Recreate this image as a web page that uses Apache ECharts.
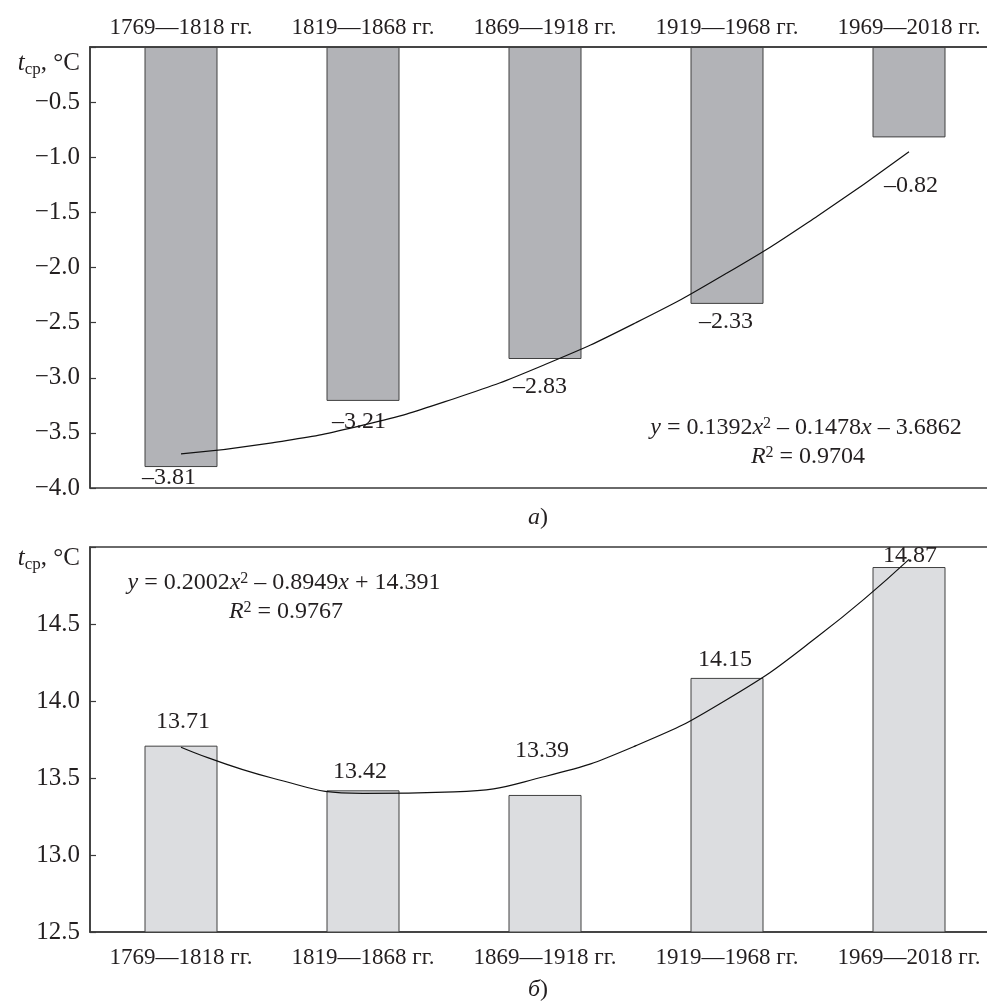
<!DOCTYPE html>
<html>
<head>
<meta charset="utf-8">
<script src="https://cdn.jsdelivr.net/npm/echarts@6/dist/echarts.min.js"></script>
<style>
  html, body { margin: 0; padding: 0; background: #fff; }
  #chart { width: 987px; height: 1005px; }
</style>
</head>
<body>
<div id="chart"></div>
<script>
// Periods (50-year intervals)
const periods = ['1769—1818 гг.', '1819—1868 гг.', '1869—1918 гг.', '1919—1968 гг.', '1969—2018 гг.'];

// Panel а): mean winter temperature, °C
const winterMean = [-3.81, -3.21, -2.83, -2.33, -0.82];
const winterTickLabels = ['−4.0', '−3.5', '−3.0', '−2.5', '−2.0', '−1.5', '−1.0', '−0.5', ''];

// Panel б): mean summer temperature, °C
const summerMean = [13.71, 13.42, 13.39, 14.15, 14.87];
const summerTickLabels = ['12.5', '13.0', '13.5', '14.0', '14.5', ''];

// Polynomial trend curves, read at every half period (1 = first period)
const trendX = [1, 1.5, 2, 2.5, 3, 3.5, 4, 4.5, 5];
const winterTrend = [-3.69, -3.59, -3.43, -3.19, -2.88, -2.50, -2.05, -1.53, -0.95];
const summerTrend = [13.70, 13.50, 13.40, 13.41, 13.51, 13.71, 14.01, 14.42, 14.92];

// Label nudges (px) for each bar value label
const winterLabelShift = [[-12, -1], [-4, 9], [-5, 16], [-1, 6], [2, 36]];
const summerLabelShift = [[2, -12], [-3, -7], [-3, -32], [-2, -6], [1, 1]];

const FONT = "'Liberation Serif', 'Times New Roman', serif";
const INK = '#231f20';
const AXIS = '#3a3a3a';

function dash(v) {
  return v.toFixed(2).replace('-', '–');
}

function tickFormatter(labels, min) {
  return function (v) {
    const i = Math.round((v - min) / 0.5);
    return labels[i] !== undefined ? labels[i] : '';
  };
}

function barData(values, shifts) {
  return values.map((v, i) => ({ value: v, label: { offset: shifts[i] } }));
}

function pairs(xs, ys) {
  return xs.map((x, i) => [x, ys[i]]);
}

const chart = echarts.init(document.getElementById('chart'), null, { renderer: 'canvas' });

const richEq = {
  i: { fontFamily: FONT, fontStyle: 'italic', fontSize: 24, fill: INK },
  n: { fontFamily: FONT, fontSize: 24, fill: INK },
  sup: { fontFamily: FONT, fontSize: 16, fill: INK, verticalAlign: 'top', lineHeight: 22 }
};
const richUnit = {
  i: { fontFamily: FONT, fontStyle: 'italic', fontSize: 25, fill: INK },
  sub: { fontFamily: FONT, fontSize: 17, fill: INK, verticalAlign: 'bottom', lineHeight: 30 },
  n: { fontFamily: FONT, fontSize: 25, fill: INK }
};

const gridBase = {
  left: 90, width: 910, show: true, borderColor: AXIS, borderWidth: 1.5,
  backgroundColor: 'transparent', containLabel: false, outerBoundsMode: 'none'
};

const catAxis = (gridIndex, position, margin) => ({
  type: 'category', gridIndex, position, data: periods,
  axisLine: { show: true, lineStyle: { color: AXIS, width: 1.5 } },
  axisTick: { show: false },
  axisLabel: { fontFamily: FONT, fontSize: 23, color: INK, margin, interval: 0, hideOverlap: false }
});

const trendAxis = (gridIndex) => ({
  type: 'value', gridIndex, min: 0.5, max: 5.5, show: false
});

const valAxis = (gridIndex, min, max, labels) => ({
  type: 'value', gridIndex, min, max, interval: 0.5,
  axisLine: { show: true, lineStyle: { color: AXIS, width: 1.5 } },
  axisTick: { show: true, inside: true, length: 6, lineStyle: { color: AXIS, width: 1.2 } },
  splitLine: { show: false },
  axisLabel: { fontFamily: FONT, fontSize: 25, color: INK, margin: 10, formatter: tickFormatter(labels, min) }
});

const option = {
  backgroundColor: '#fff',
  animation: false,
  textStyle: { fontFamily: FONT, color: INK },
  grid: [
    Object.assign({ top: 47, height: 441 }, gridBase),
    Object.assign({ top: 547, height: 385 }, gridBase)
  ],
  xAxis: [
    catAxis(0, 'top', 8),
    catAxis(1, 'bottom', 14),
    trendAxis(0),
    trendAxis(1)
  ],
  yAxis: [
    valAxis(0, -4, 0, winterTickLabels),
    valAxis(1, 12.5, 15, summerTickLabels)
  ],
  series: [
    {
      type: 'bar', xAxisIndex: 0, yAxisIndex: 0,
      data: barData(winterMean, winterLabelShift),
      barWidth: 73,
      itemStyle: { color: '#b2b3b7', borderColor: '#404040', borderWidth: 1 },
      label: {
        show: true, position: 'bottom', distance: 0,
        fontFamily: FONT, fontSize: 24, color: INK,
        formatter: p => dash(p.value)
      },
      z: 2
    },
    {
      type: 'line', xAxisIndex: 2, yAxisIndex: 0,
      data: pairs(trendX, winterTrend), smooth: true, symbol: 'none',
      lineStyle: { color: '#111', width: 1.2 },
      z: 3
    },
    {
      type: 'bar', xAxisIndex: 1, yAxisIndex: 1,
      data: barData(summerMean, summerLabelShift),
      barWidth: 73,
      itemStyle: { color: '#dcdde0', borderColor: '#404040', borderWidth: 1 },
      label: {
        show: true, position: 'top', distance: 0,
        fontFamily: FONT, fontSize: 24, color: INK,
        formatter: p => p.value.toFixed(2)
      },
      z: 2
    },
    {
      type: 'line', xAxisIndex: 3, yAxisIndex: 1,
      data: pairs(trendX, summerTrend), smooth: true, symbol: 'none',
      lineStyle: { color: '#111', width: 1.2 },
      z: 3
    }
  ],
  graphic: [
    { type: 'text', x: 80, y: 63,
      style: { text: '{i|t}{sub|ср}{n|, °C}', align: 'right', verticalAlign: 'middle', rich: richUnit } },
    { type: 'text', x: 80, y: 558,
      style: { text: '{i|t}{sub|ср}{n|, °C}', align: 'right', verticalAlign: 'middle', rich: richUnit } },
    { type: 'text', x: 806, y: 428,
      style: { text: '{i|y}{n| = 0.1392}{i|x}{sup|2}{n| – 0.1478}{i|x}{n| – 3.6862}', align: 'center', verticalAlign: 'middle', rich: richEq } },
    { type: 'text', x: 808, y: 457,
      style: { text: '{i|R}{sup|2}{n| = 0.9704}', align: 'center', verticalAlign: 'middle', rich: richEq } },
    { type: 'text', x: 284, y: 583,
      style: { text: '{i|y}{n| = 0.2002}{i|x}{sup|2}{n| – 0.8949}{i|x}{n| + 14.391}', align: 'center', verticalAlign: 'middle', rich: richEq } },
    { type: 'text', x: 286, y: 612,
      style: { text: '{i|R}{sup|2}{n| = 0.9767}', align: 'center', verticalAlign: 'middle', rich: richEq } },
    { type: 'text', x: 538, y: 518,
      style: { text: '{i|а}{n|)}', align: 'center', verticalAlign: 'middle', rich: richEq } },
    { type: 'text', x: 538, y: 990,
      style: { text: '{i|б}{n|)}', align: 'center', verticalAlign: 'middle', rich: richEq } }
  ]
};

chart.setOption(option);
</script>
</body>
</html>
